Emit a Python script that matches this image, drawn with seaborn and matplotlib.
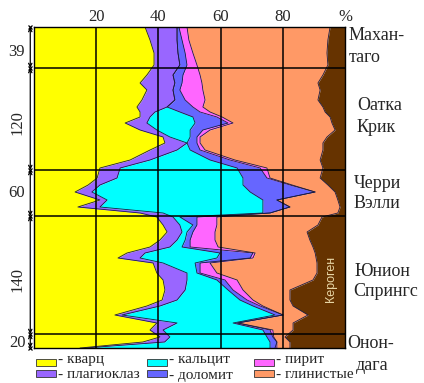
import matplotlib
matplotlib.use("Agg")
import matplotlib.pyplot as plt
import matplotlib.transforms as mtransforms
from matplotlib.patches import Rectangle
import numpy as np
import seaborn as sns

# depth position in the column (chart units, top = 0), formation boundaries
depth = [0, 13, 26, 38, 48, 56, 63, 73, 80, 85, 90, 96, 103, 110, 116, 123, 133, 141,
         151, 158, 165, 173, 180, 186, 190, 198, 205, 213, 220, 226, 231, 236, 246, 253,
         263, 273, 279, 288, 296, 303, 310, 315, 321]
bounds = [0, 41, 143, 189, 307, 321]
thickness = ["39", "120", "60", "140", "20"]
formations = [["Махан-", "таго"], ["Оатка", "Крик"], ["Черри", "Вэлли"],
              ["Юнион", "Спрингс"], ["Онон-", "дага"]]

# mineral composition, %
quartz = [35.7, 37.3, 38.6, 38.6, 36.3, 34.1, 36.3, 34.7, 33.1, 34.1, 34.1, 29.3, 34.1, 41.5,
          42.1, 37.3, 30.9, 21.2, 20.3, 17.4, 13.2, 21.2, 14.1, 34.1, 39.5, 41.5, 42.8, 40.5,
          37.3, 29.9, 27.0, 38.3, 39.5, 41.5, 42.1, 41.2, 36.3, 26.0, 39.5, 37.3, 40.5, 35.0, 14.8]
plag = [10.3, 8.7, 7.7, 8.3, 8.4, 11.2, 8.4, 10.6, 9.7, 4.8, 3.2, 7.0, 5.4, 2.2, 7.1, 8.7,
        6.4, 6.5, 6.4, 3.8, 5.4, 2.3, 7.1, 7.4, 5.2, 5.4, 4.8, 5.5, 6.4, 5.8, 7.1, 3.2, 9.7,
        7.7, 6.5, 4.8, 4.2, 2.3, 6.5, 4.2, 3.2, 7.0, 1.6]
calcite = [0, 0, 0, 0, 0, 0, 0, 0, 0, 8.0, 13.8, 15.5, 10.7, 6.5, 0, 4.2, 19.3, 37.6, 40.5,
           46.0, 50.9, 50.1, 52.4, 32.1, 2.2, 4.2, 1.6, 2.6, 3.9, 24.1, 24.7, 10.3, 3.2, 9.6,
           13.8, 20.2, 29.9, 49.2, 18.0, 32.1, 31.2, 33.9, 59.5]
dolomite = [0.6, 1.6, 2.3, 2.3, 3.2, 2.3, 2.2, 3.3, 8.3, 6.5, 7.7, 10.6, 4.1, 2.2, 3.2, 3.2,
            6.4, 7.4, 7.7, 15.1, 20.9, 4.5, 8.7, 2.3, 5.5, 1.3, 1.9, 1.6, 2.6, 10.6, 10.7, 1.6,
            1.0, 2.6, 1.6, 2.3, 2.3, 2.6, 1.3, 2.3, 1.9, 2.2, 1.6]
pyrite = [2.6, 2.2, 2.5, 3.2, 5.5, 6.4, 7.4, 6.4, 3.2, 3.2, 1.7, 1.6, 2.3, 1.0, 1.0, 1.6,
          1.6, 2.2, 1.0, 0.7, 0, 0, 0, 0, 6.4, 6.4, 7.1, 8.0, 9.0, 0.7, 0.9, 3.2, 5.4, 3.9,
          3.2, 1.9, 0.9, 0, 0.3, 0.9, 0.3, 0, 0.6]
clay = [46.0, 44.7, 43.1, 42.1, 39.5, 37.3, 37.7, 36.3, 38.6, 37.0, 34.7, 31.8, 40.2, 40.8,
        39.5, 37.9, 27.4, 18.0, 16.1, 11.5, 6.4, 19.6, 16.1, 21.8, 33.8, 32.5, 29.6, 30.5,
        30.5, 19.3, 20.3, 34.4, 32.2, 24.4, 15.1, 11.9, 9.7, 8.0, 17.7, 6.5, 3.6, 4.2, 4.2]
kerogen = [4.8, 5.5, 5.8, 5.5, 7.1, 8.7, 8.0, 8.7, 7.1, 6.4, 4.8, 4.2, 3.2, 5.8, 7.1, 7.1,
           8.0, 7.1, 8.0, 5.5, 3.2, 2.3, 1.6, 2.3, 7.4, 8.7, 12.2, 11.3, 10.3, 9.6, 9.3, 9.0,
           9.0, 10.3, 17.7, 17.7, 16.7, 11.9, 16.7, 16.7, 19.3, 17.7, 17.7]

minerals = [quartz, plag, calcite, dolomite, pyrite, clay, kerogen]
colors = ["#FFFF00", "#9966FF", "#00FFFF", "#6666FF", "#FF66FF", "#FF9966", "#663300"]
legend_names = ["- кварц", "- кальцит", "- пирит", "- плагиоклаз", "- доломит", "- глинистые"]
legend_colors = ["#FFFF00", "#00FFFF", "#FF66FF", "#9966FF", "#6666FF", "#FF9966"]

sns.set_style("white")
plt.rcParams["font.family"] = ["Liberation Serif", "DejaVu Serif"]

W, H = 424, 383
fig = plt.figure(figsize=(W / 100, H / 100), dpi=100)
ax = fig.add_axes([34 / W, 1 - 348 / H, 311 / W, 321 / H])

left = np.zeros(len(depth))
for vals, col in zip(minerals, colors):
    right = left + np.array(vals)
    ax.fill_betweenx(depth, left, right, color=col, lw=0, zorder=1)
    left = right

# outlines between the layers
left = np.zeros(len(depth))
for vals in minerals[:-1]:
    left = left + np.array(vals)
    sns.lineplot(x=left, y=depth, sort=False, orient="y", color="#1c1c40",
                 lw=0.6, ax=ax, zorder=2)

for g in [20, 40, 60, 80]:
    ax.axvline(g, color="black", lw=1.1, zorder=4)
for b in bounds[1:-1]:
    ax.axhline(b, color="black", lw=1.1, zorder=4)

ax.set_xlim(0, 100)
ax.set_ylim(bounds[-1], 0)
ax.set_xlabel("")
ax.set_ylabel("")
ax.xaxis.tick_top()
ax.set_xticks([20, 40, 60, 80, 100])
ax.set_xticklabels(["20", "40", "60", "80", "%"])
ax.tick_params(axis="x", length=0, pad=1.5, labelsize=12)
ax.set_yticks([])
for s in ax.spines.values():
    s.set_color("black")
    s.set_linewidth(1)

# thickness arrows on the left
trans = mtransforms.blended_transform_factory(ax.transAxes, ax.transData)
ax_x = -0.012
for i in range(len(bounds) - 1):
    ax.annotate("", xy=(ax_x, bounds[i]), xytext=(ax_x, bounds[i + 1]), xycoords=trans,
                textcoords=trans,
                arrowprops=dict(arrowstyle="<->", lw=0.9, color="black",
                                mutation_scale=6, shrinkA=0, shrinkB=0))
ax.plot([ax_x] * len(bounds), bounds, transform=trans, marker="x", ms=3.5, mew=0.9,
        lw=0, color="black", clip_on=False)

lab_pos = [(16, 52, 0), (17, 123, 90), (17, 193, 0), (17, 280, 90), (17, 343, 0)]
for txt, (px, py, rot) in zip(thickness, lab_pos):
    fig.text(px / W, 1 - py / H, txt, ha="center", va="center", rotation=rot, fontsize=12)

# formation names on the right
form_pos = [(349, 36, 349, 57), (357, 105, 357, 127), (354, 183, 354, 204),
            (355, 272, 353, 292), (347, 343, 356, 366)]
for names, (x1, y1, x2, y2) in zip(formations, form_pos):
    fig.text(x1 / W, 1 - y1 / H, names[0], ha="left", va="center", fontsize=13)
    fig.text(x2 / W, 1 - y2 / H, names[1], ha="left", va="center", fontsize=13)

ax.text(95.5, 252, "Кероген", rotation=90, ha="center", va="center", color="#E8D6A6",
        fontsize=9, family=["Liberation Sans", "DejaVu Sans"], zorder=6)

# legend
leg_x = [36, 147, 254]
leg_y = [362, 373]
for i, (name, col) in enumerate(zip(legend_names, legend_colors)):
    px = leg_x[i % 3]
    py = leg_y[i // 3]
    fig.patches.append(Rectangle((px / W, 1 - (py + 3.5) / H), 20 / W, 7 / H,
                                 transform=fig.transFigure, facecolor=col,
                                 edgecolor="#333333", lw=0.6))
    fig.text((px + 22) / W, 1 - (py - 2 + 4 * (i // 3)) / H, name, ha="left",
             va="center", fontsize=11)

fig.savefig("out.png", dpi=100)
